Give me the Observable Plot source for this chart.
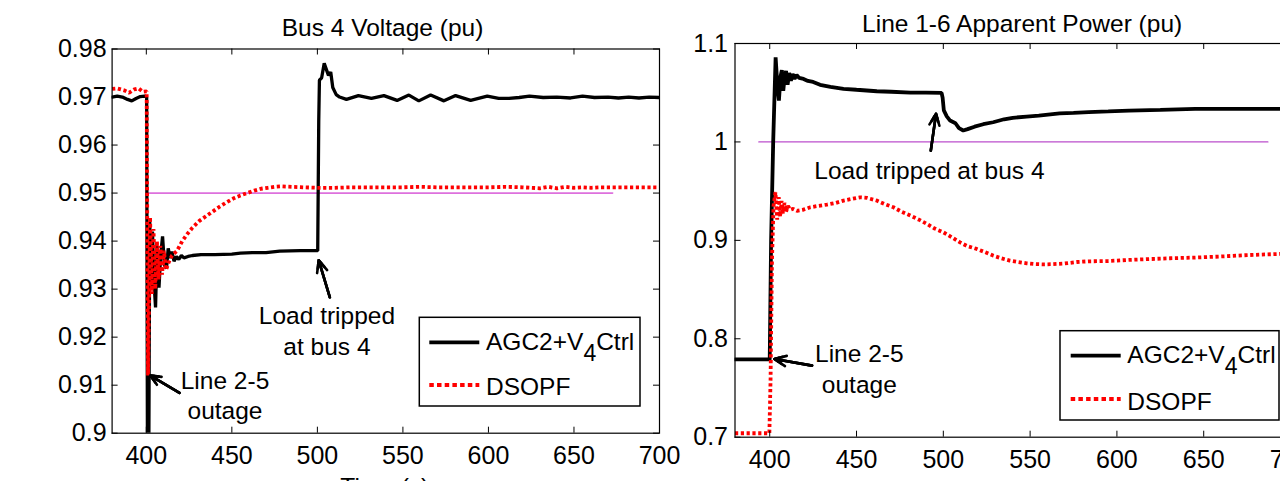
<!DOCTYPE html>
<html><head><meta charset="utf-8">
<script src="https://cdn.jsdelivr.net/npm/d3@7"></script>
<script src="https://cdn.jsdelivr.net/npm/@observablehq/plot@0.6"></script>
<style>
html,body{margin:0;padding:0;background:#fff;}
#wrap{position:relative;width:1280px;height:481px;overflow:hidden;background:#fff;}
#wrap > div{position:absolute;top:0;}
svg text{font-family:"Liberation Sans",Arial,Helvetica,sans-serif;}
</style></head><body><div id="wrap"><div id="pA"></div><div id="pB"></div></div>
<script>
// ---------------- data ----------------
const xTicks = [400, 450, 500, 550, 600, 650, 700];
const yTicksA = [0.9, 0.91, 0.92, 0.93, 0.94, 0.95, 0.96, 0.97, 0.98];
const yTicksB = [0.7, 0.8, 0.9, 1, 1.1];
const seriesNames = ["AGC2+V4Ctrl", "DSOPF"];
const titleA = "Bus 4 Voltage (pu)";
const titleB = "Line 1-6 Apparent Power (pu)";
const xLabel = "Time (s)";

// Bus 4 voltage, AGC2+V4Ctrl
const tA_agc = [380,383,386,389,391.5,394,396.5,399,400.2,400.7,401.4,402.0,402.8,403.6,404.4,405.4,406.3,407.4,408.4,409.5,410.6,411.8,412.8,413.9,415,416.2,417.6,419,420.5,422,424.4,427,432,440,450,455,462,470,478,490,500.2,500.8,501.2,502.5,504,505.5,506.5,507.8,509,511,513,517,524,531.6,538.9,546.6,553.5,559.3,566.2,574,580.8,589.6,599.3,606,612,618,624,632,640,648,655,662,670,676,682,688,694,700];
const vA_agc = [0.9700,0.9702,0.9700,0.9695,0.9692,0.9697,0.9701,0.9702,0.9700,0.890,0.890,0.944,0.930,0.942,0.932,0.9262,0.939,0.9303,0.937,0.941,0.935,0.9343,0.9385,0.9365,0.9378,0.9358,0.9368,0.9362,0.9370,0.9365,0.9368,0.9370,0.9372,0.9372,0.9373,0.9375,0.9376,0.9376,0.9379,0.9380,0.9380,0.9650,0.9735,0.9740,0.9770,0.9755,0.9745,0.9752,0.9720,0.9705,0.9700,0.9695,0.9703,0.9697,0.9703,0.9693,0.9704,0.9692,0.9704,0.9692,0.9703,0.9693,0.9702,0.9697,0.9697,0.9699,0.9702,0.9699,0.9700,0.9698,0.9702,0.9699,0.9700,0.9698,0.9700,0.9698,0.9700,0.9699];
// Bus 4 voltage, DSOPF
const tA_opf = [380,383,387,390,393,395.5,398,400.2,400.6,401.0,401.5,402.2,403.2,404.2,405.2,406.2,407.2,408.2,409.2,410.3,411.5,413,415,418,421,424,427,431,435,439,443,447,451,455,459,463,467,471,475,479,485,492,500,510,520,530,540,550,560,570,580,590,600,610,620,630,635,640,645,650,655,660,665,670,680,690,700];
const vA_opf = [0.9717,0.9718,0.9714,0.9709,0.9716,0.9718,0.9711,0.9712,0.940,0.912,0.925,0.945,0.929,0.9425,0.930,0.940,0.932,0.939,0.933,0.938,0.934,0.9355,0.937,0.9380,0.9400,0.9415,0.9428,0.9442,0.9452,0.9462,0.9472,0.9481,0.9489,0.9495,0.9500,0.9505,0.9509,0.9511,0.9513,0.9514,0.9513,0.9512,0.9511,0.9511,0.9512,0.9512,0.9512,0.9512,0.9513,0.9512,0.9512,0.9512,0.9512,0.9513,0.9512,0.9510,0.9513,0.9510,0.9513,0.9511,0.9512,0.9511,0.9512,0.9512,0.9512,0.9512,0.9512];
// Line 1-6 apparent power, AGC2+V4Ctrl
const tB_agc = [380,390,400,400.8,402,403.4,404.5,405.3,406.2,407.0,407.8,408.6,409.4,410.3,411.2,412.2,413.2,414.3,415.5,417,419.5,422,425,429,435,442.5,450,461.7,470,481,490,499,499.6,500.3,502,503.9,507,509,511.5,514,518,523,528.7,535,540,548,555,567,575,583.7,595,607,625,645,670,700];
const vB_agc = [0.779,0.779,0.779,0.9,1.0,1.086,1.055,1.042,1.066,1.073,1.052,1.066,1.072,1.058,1.070,1.062,1.069,1.064,1.068,1.065,1.064,1.062,1.061,1.058,1.056,1.054,1.053,1.0515,1.051,1.050,1.050,1.0499,1.045,1.032,1.026,1.0217,1.019,1.014,1.0116,1.013,1.0155,1.018,1.020,1.023,1.0245,1.0258,1.0268,1.029,1.0295,1.0302,1.031,1.0319,1.0325,1.0335,1.0336,1.0336];
// Line 1-6 apparent power, DSOPF
const tB_opf = [380,390,399.8,400.5,401.3,402.2,403.3,404.3,405.2,406.0,406.8,407.6,408.5,409.4,410.5,411.9,413.5,415.7,419,423.4,428,433,438,442.5,447,452,456,461.7,466,471.3,476,481,486,490.5,495,500,505,509.6,514,519.2,524,528.7,533,538.3,543,548,552,557.5,563,570,577,583.7,595,607,619,630.6,645,658.8,675,693.5,700];
const vB_opf = [0.704,0.704,0.704,0.76,0.88,0.935,0.949,0.921,0.944,0.924,0.940,0.927,0.938,0.929,0.935,0.931,0.932,0.930,0.931,0.9336,0.935,0.9363,0.938,0.9404,0.942,0.9437,0.9432,0.9404,0.937,0.9336,0.929,0.9252,0.921,0.9167,0.912,0.9082,0.903,0.898,0.894,0.8913,0.888,0.8845,0.882,0.8794,0.878,0.8767,0.876,0.8756,0.8758,0.8765,0.878,0.8787,0.879,0.8801,0.881,0.8818,0.8825,0.8835,0.885,0.8862,0.8865];

// reference (limit) lines
const refA_t = [400, 672.6], refA_v = [0.95, 0.95];
const refB_t = [393.7, 687], refB_v = [1, 1];

// annotations (text centre) and arrows (tail -> head)
const annoA_t = [446, 505.6], annoA_v = [0.9081, 0.9215], annoA_label = ["Line 2-5\noutage", "Load tripped\nat bus 4"];
const arrA_t1 = [419.4, 507.3], arrA_v1 = [0.9084, 0.9283], arrA_t2 = [402.4, 500.8], arrA_v2 = [0.9120, 0.9360];
const annoB_t = [451.6, 492], annoB_v = [0.7708, 0.9721], annoB_label = ["Line 2-5\noutage", "Load tripped at bus 4"];
const arrB_t1 = [424.4, 492.8], arrB_v1 = [0.7727, 0.9912], arrB_t2 = [402.7, 495.8], arrB_v2 = [0.7795, 1.0285];

// ---------------- helpers ----------------
const FONT = '"Liberation Sans", Arial, Helvetica, sans-serif';
const rows = (ts, vs) => ts.map((t, i) => ({t, v: vs[i]}));
const annoRows = (ts, vs, ls) => ts.map((t, i) => ({t, v: vs[i], label: ls[i]}));
const arrRows = (t1, v1, t2, v2) => t1.map((t, i) => ({t1: t, v1: v1[i], t2: t2[i], v2: v2[i]}));

function panel(cfg) {
  const H = 481, tk = 6;
  const iw = cfg.width - cfg.ml - cfg.mr, ih = H - cfg.mt - cfg.mb;
  const arrows = cfg.arrows;
  const svg = Plot.plot({
    width: cfg.width, height: H,
    marginLeft: cfg.ml, marginRight: cfg.mr, marginTop: cfg.mt, marginBottom: cfg.mb,
    style: {background: "transparent", fontFamily: FONT, fontSize: "25px", color: "black"},
    x: {domain: [380, 700]},
    y: {domain: cfg.yDomain},
    marks: [
      Plot.line(cfg.ref, {x: "t", y: "v", stroke: cfg.refColor, strokeWidth: cfg.refWidth}),
      Plot.line(cfg.agc, {x: "t", y: "v", stroke: "black", strokeWidth: cfg.agcWidth, strokeLinejoin: "miter", clip: true}),
      Plot.line(cfg.opf, {x: "t", y: "v", stroke: "#ff0000", strokeWidth: 3.8, strokeDasharray: "3.2,2.6", strokeLinecap: "butt", strokeLinejoin: "miter", clip: true}),
      Plot.frame({stroke: "black", strokeWidth: 1.2}),
      Plot.tickX(xTicks, {x: d => d, insetTop: ih - tk, stroke: "black", strokeWidth: 1}),
      Plot.tickX(xTicks, {x: d => d, insetBottom: ih - tk, stroke: "black", strokeWidth: 1}),
      Plot.tickY(cfg.yTicks, {y: d => d, insetRight: iw - tk, stroke: "black", strokeWidth: 1}),
      Plot.tickY(cfg.yTicks, {y: d => d, insetLeft: iw - tk, stroke: "black", strokeWidth: 1}),
      Plot.axisX(xTicks, {tickSize: 0, tickPadding: cfg.xPad, tickFormat: d => String(d), fill: "black"}),
      Plot.axisY(cfg.yTicks, {tickSize: 0, tickPadding: cfg.yPad, tickFormat: d => String(d), fill: "black"}),
      Plot.text([cfg.title], {frameAnchor: "top", dy: cfg.titleDy, dx: cfg.titleDx, lineAnchor: "middle", fontSize: 24.5, fill: "black"}),
      Plot.text([xLabel], {frameAnchor: "bottom", lineAnchor: "top", dy: cfg.xlabDy, dx: cfg.xlabDx, fontSize: 24.5, fill: "black"}),
      Plot.text(cfg.anno, {x: "t", y: "v", text: "label", lineAnchor: "middle", lineHeight: 1.25, fontSize: 24.5, fill: "black"}),
      Plot.arrow(arrows, {x1: "t1", y1: "v1", x2: "t2", y2: "v2", stroke: "black", strokeWidth: 2.6, headLength: 7.5, headAngle: 48}),
      Plot.arrow(arrows, {x1: "t1", y1: "v1", x2: "t2", y2: "v2", stroke: "black", strokeWidth: 2.6, headLength: 5, headAngle: 48}),
      Plot.arrow(arrows, {x1: "t1", y1: "v1", x2: "t2", y2: "v2", stroke: "black", strokeWidth: 2.6, headLength: 2.5, headAngle: 48})
    ]
  });
  // legend box (layout element)
  const L = cfg.legend, g = d3.select(svg).append("g").attr("text-anchor", "start");
  g.append("rect").attr("x", L.x).attr("y", L.y).attr("width", L.w).attr("height", L.h)
    .attr("fill", "white").attr("stroke", "black").attr("stroke-width", 1.5);
  g.append("line").attr("x1", L.sx1).attr("x2", L.sx2).attr("y1", L.y1).attr("y2", L.y1)
    .attr("stroke", "black").attr("stroke-width", 3.8);
  g.append("line").attr("x1", L.sx1).attr("x2", L.sx2).attr("y1", L.y2).attr("y2", L.y2)
    .attr("stroke", "#ff0000").attr("stroke-width", 3.8).attr("stroke-dasharray", "4.5,3.2");
  const t1 = g.append("text").attr("x", L.tx).attr("y", L.b1).attr("font-size", 24.5).attr("fill", "black").attr("text-anchor", "start");
  t1.append("tspan").text("AGC2+V");
  t1.append("tspan").attr("dy", 11).attr("font-size", 23).text("4");
  t1.append("tspan").attr("dy", -11).text("Ctrl");
  g.append("text").attr("x", L.tx).attr("y", L.b2).attr("font-size", 24.5).attr("fill", "black").attr("text-anchor", "start").text(seriesNames[1]);
  return svg;
}

const svgA = panel({
  width: 700, ml: 111.6, mr: 41, mt: 48.5, mb: 48.3,
  yDomain: [0.9, 0.98], yTicks: yTicksA, xPad: 13.5, yPad: 5.5,
  title: titleA, titleDy: -21.3, titleDx: -3.3, xlabDy: 44, xlabDx: -1,
  agc: rows(tA_agc, vA_agc), opf: rows(tA_opf, vA_opf), agcWidth: 3.3,
  ref: rows(refA_t, refA_v), refColor: "#dd70dd", refWidth: 1.6,
  anno: annoRows(annoA_t, annoA_v, annoA_label),
  arrows: arrRows(arrA_t1, arrA_v1, arrA_t2, arrA_v2),
  legend: {x: 419.3, y: 317.3, w: 220.7, h: 88.7, sx1: 429.3, sx2: 479.3, y1: 342.3, y2: 385, tx: 486, b1: 350, b2: 395}
});
const offB = 682;
const svgB = panel({
  width: 618, ml: 52.5, mr: 10, mt: 43, mb: 44.3,
  yDomain: [0.7, 1.1], yTicks: yTicksB, xPad: 13, yPad: 7,
  title: titleB, titleDy: -19.1, titleDx: 9.4, xlabDy: 43.3, xlabDx: -7,
  agc: rows(tB_agc, vB_agc), opf: rows(tB_opf, vB_opf), agcWidth: 3.8,
  ref: rows(refB_t, refB_v), refColor: "#bb4fcc", refWidth: 1.2,
  anno: annoRows(annoB_t, annoB_v, annoB_label),
  arrows: arrRows(arrB_t1, arrB_v1, arrB_t2, arrB_v2),
  legend: {x: 1060 - offB, y: 330.7, w: 219, h: 89.3, sx1: 1070.7 - offB, sx2: 1120.7 - offB, y1: 355.7, y2: 399, tx: 1127.3 - offB, b1: 363.3, b2: 410}
});
const pA = document.getElementById("pA"), pB = document.getElementById("pB");
pA.style.left = "0px"; pA.style.width = "700px";
pB.style.left = offB + "px"; pB.style.width = "618px";
pA.appendChild(svgA); pB.appendChild(svgB);
</script></body></html>
